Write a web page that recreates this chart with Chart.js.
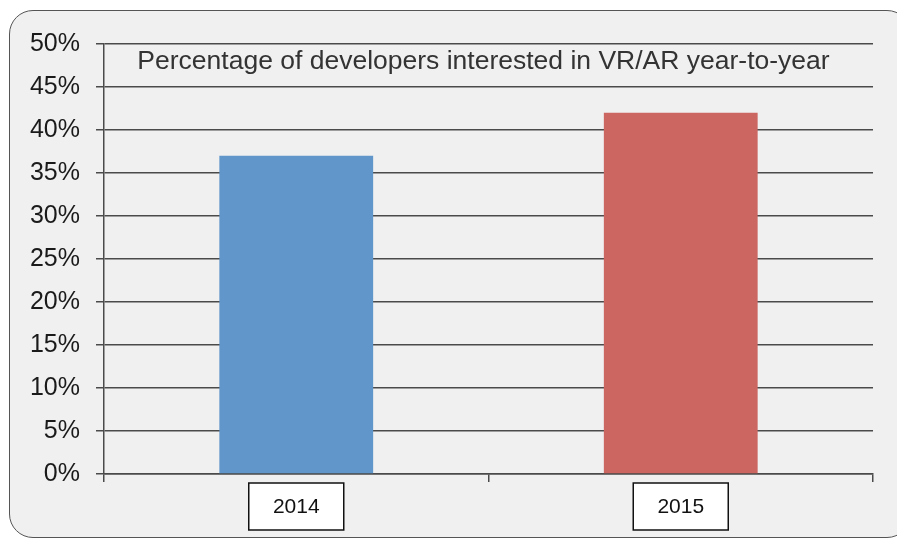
<!DOCTYPE html>
<html lang="en">
<head>
    <meta charset="UTF-8">
    <title>VR/AR interest</title>
    <script src="https://cdn.jsdelivr.net/npm/chart.js"></script>
    <style>
        html, body {
            margin: 0;
            padding: 0;
            width: 897px;
            height: 538px;
            overflow: hidden;
            background: #ffffff;
        }

        /* rounded grey frame around the whole chart */
        #frame {
            position: absolute;
            left: 9px;
            top: 10px;
            width: 900px;
            height: 526px;
            border: 1.5px solid #555555;
            border-radius: 24px;
            background: #f0f0f0;
        }

        #vrChart {
            position: absolute;
            left: 0;
            top: 0;
        }
    </style>
</head>
<body>
    <div id="frame"></div>
    <canvas id="vrChart" width="897" height="538"></canvas>

    <script>
        // Datos del grafico
        const titleText = 'Percentage of developers interested in VR/AR year-to-year';
        const years = ['2014', '2015'];
        const interested = [37, 42];
        const barColors = ['#6096ca', '#cc6660'];

        const FONT = '"Liberation Sans", Arial, Helvetica, sans-serif';
        const LINE = '#4a4a4a';

        // Titulo dentro del area del grafico + cajas de las etiquetas del eje X
        const extras = {
            id: 'extras',
            afterDraw(chart) {
                const ctx = chart.ctx;
                const area = chart.chartArea;
                const xScale = chart.scales.x;

                ctx.save();
                ctx.fillStyle = '#333333';
                ctx.font = '26.5px ' + FONT;
                ctx.textAlign = 'center';
                ctx.textBaseline = 'middle';
                ctx.fillText(titleText, (area.left + area.right) / 2 - 5, area.top + 18);

                ctx.font = '21px ' + FONT;
                years.forEach((label, i) => {
                    const cx = xScale.getPixelForTick(i);
                    const w = 95, h = 47, top = area.bottom + 9;
                    ctx.fillStyle = '#ffffff';
                    ctx.fillRect(cx - w / 2, top, w, h);
                    ctx.strokeStyle = '#111111';
                    ctx.lineWidth = 1.5;
                    ctx.strokeRect(cx - w / 2, top, w, h);
                    ctx.fillStyle = '#111111';
                    ctx.fillText(label, cx, top + h / 2 + 1);
                });
                ctx.restore();
            }
        };

        new Chart(document.getElementById('vrChart'), {
            type: 'bar',
            data: {
                labels: years,
                datasets: [{
                    data: interested,
                    backgroundColor: barColors,
                    borderWidth: 0,
                    barPercentage: 0.4,
                    categoryPercentage: 1.0
                }]
            },
            options: {
                responsive: false,
                animation: false,
                layout: {
                    padding: { top: 44, right: 24, bottom: 0, left: 0 }
                },
                plugins: {
                    legend: { display: false },
                    tooltip: { enabled: false }
                },
                scales: {
                    x: {
                        afterFit(scale) { scale.height = 64; },
                        grid: {
                            offset: true,
                            drawOnChartArea: false,
                            drawTicks: true,
                            tickLength: 8,
                            color: LINE,
                            lineWidth: 1.5
                        },
                        border: { color: LINE, width: 1.5 },
                        ticks: {
                            color: 'rgba(0,0,0,0)',
                            font: { family: FONT, size: 21 }
                        }
                    },
                    y: {
                        min: 0,
                        max: 50,
                        afterFit(scale) { scale.width = 104; },
                        grid: {
                            drawTicks: true,
                            tickLength: 8,
                            color: LINE,
                            lineWidth: 1.5
                        },
                        border: { color: LINE, width: 1.5 },
                        ticks: {
                            stepSize: 5,
                            padding: 16,
                            color: '#1a1a1a',
                            font: { family: FONT, size: 25 },
                            callback: value => value + '%'
                        }
                    }
                }
            },
            plugins: [extras]
        });
    </script>
</body>
</html>
